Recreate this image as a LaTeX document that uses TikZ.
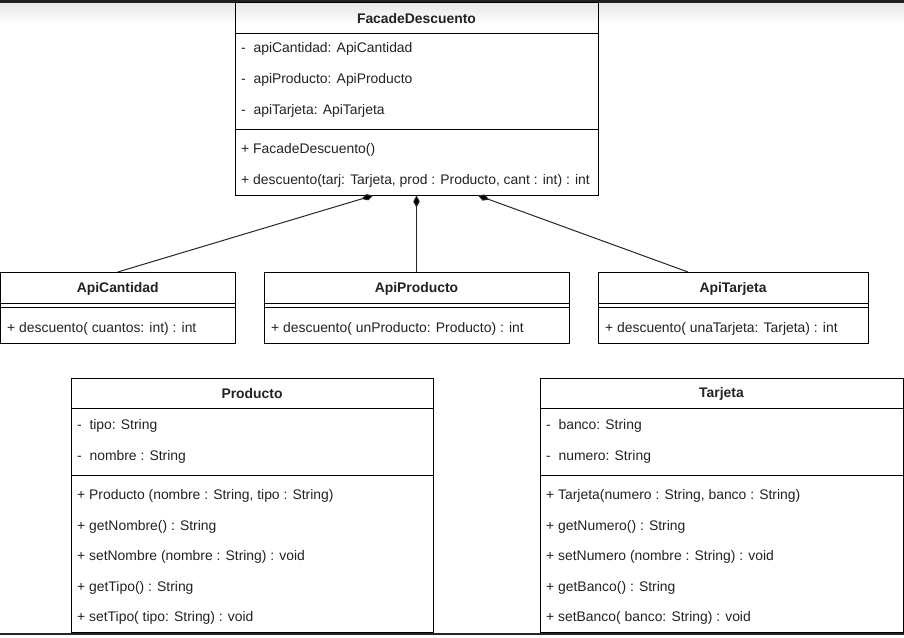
\documentclass[tikz,border=0pt]{standalone}
\usepackage{fontspec}
\setmainfont{Liberation Sans}
\usetikzlibrary{arrows.meta}
\definecolor{txt}{HTML}{222222}
\tikzset{
  cls/.style={draw=black, line width=1pt, inner sep=0pt, outer sep=0pt, anchor=north west},
  hdr/.style={font=\bfseries\fontsize{13.9}{16}\selectfont, text=txt, inner sep=0pt, yshift=-1pt},
  mem/.style={font=\fontsize{13.9}{16}\selectfont, text=txt, anchor=west, inner sep=0pt, yshift=-1.5pt},
  sepline/.style={draw=black, line width=1pt},
  comp/.style={draw=black!85, line width=1pt, -{Diamond[length=12pt,width=6.5pt,fill=black]}}
}
\begin{document}
\begin{tikzpicture}[x=1pt,y=-1pt]
\useasboundingbox (0,0) rectangle (904,637);
% screenshot edges
\shade[top color=black!10, bottom color=white] (0,2) rectangle (904,24);
\fill[black!88] (0,0) rectangle (904,2.5);
\fill[black!85] (0,632.5) rectangle (904,635);

% FacadeDescuento
\node[cls, minimum width=363pt, minimum height=193pt] (facade) at (235,2.5) {};
\draw[sepline] (235,33) -- (598,33);
\draw[sepline] (235,129) -- (598,129);
\node[hdr] (facadeT) at (416.5,17.5) {FacadeDescuento};
\node[mem] (f1) at (241,47) {-~~apiCantidad: ApiCantidad};
\node[mem] (f2) at (241,78) {-~~apiProducto: ApiProducto};
\node[mem] (f3) at (241,109) {-~~apiTarjeta: ApiTarjeta};
\node[mem] (f4) at (241,148) {+ FacadeDescuento()};
\node[mem] (f5) at (241,179) {+ descuento(tarj: Tarjeta, prod : Producto, cant : int) : int};

% ApiCantidad
\node[cls, minimum width=234.5pt, minimum height=71pt] (apic) at (0.5,272) {};
\draw[sepline] (0.5,303) -- (235,303);
\draw[sepline] (0.5,307) -- (235,307);
\node[hdr] (apicT) at (117.75,288) {ApiCantidad};
\node[mem] (apic1) at (7,327) {+ descuento( cuantos: int) : int};

% ApiProducto
\node[cls, minimum width=305pt, minimum height=71pt] (apip) at (264,272) {};
\draw[sepline] (264,303) -- (569,303);
\draw[sepline] (264,307) -- (569,307);
\node[hdr] (apipT) at (416.5,288) {ApiProducto};
\node[mem] (apip1) at (271,327) {+ descuento( unProducto: Producto) : int};

% ApiTarjeta
\node[cls, minimum width=270pt, minimum height=71pt] (apit) at (598,272) {};
\draw[sepline] (598,303) -- (868,303);
\draw[sepline] (598,307) -- (868,307);
\node[hdr] (apitT) at (733,288) {ApiTarjeta};
\node[mem] (apit1) at (605,327) {+ descuento( unaTarjeta: Tarjeta) : int};

% Producto
\node[cls, minimum width=362pt, minimum height=254pt] (prod) at (71,378) {};
\draw[sepline] (71,408) -- (433,408);
\draw[sepline] (71,475) -- (433,475);
\node[hdr] (prodT) at (252,393) {Producto};
\node[mem] (p1) at (77,424) {-~~tipo: String};
\node[mem] (p2) at (77,455) {-~~nombre : String};
\node[mem] (p3) at (77,494) {+ Producto (nombre : String, tipo : String)};
\node[mem] (p4) at (77,525) {+ getNombre() : String};
\node[mem] (p5) at (77,555) {+ setNombre (nombre : String) : void};
\node[mem] (p6) at (77,586) {+ getTipo() : String};
\node[mem] (p7) at (77,616) {+ setTipo( tipo: String) : void};

% Tarjeta
\node[cls, minimum width=363pt, minimum height=254pt] (tarj) at (540,378) {};
\draw[sepline] (540,408) -- (903,408);
\draw[sepline] (540,475) -- (903,475);
\node[hdr] (tarjT) at (721.5,393) {Tarjeta};
\node[mem] (t1) at (546,424) {-~~banco: String};
\node[mem] (t2) at (546,455) {-~~numero: String};
\node[mem] (t3) at (546,494) {+ Tarjeta(numero : String, banco : String)};
\node[mem] (t4) at (546,525) {+ getNumero() : String};
\node[mem] (t5) at (546,555) {+ setNumero (nombre : String) : void};
\node[mem] (t6) at (546,586) {+ getBanco() : String};
\node[mem] (t7) at (546,616) {+ setBanco( banco: String) : void};

% composition connectors
\draw[comp] (apic.north) -- ([xshift=-43.5pt]facade.south);
\draw[comp] (apip.north) -- (facade.south);
\draw[comp] ([xshift=-45pt]apit.north) -- ([xshift=61.5pt]facade.south);
\end{tikzpicture}
\end{document}
